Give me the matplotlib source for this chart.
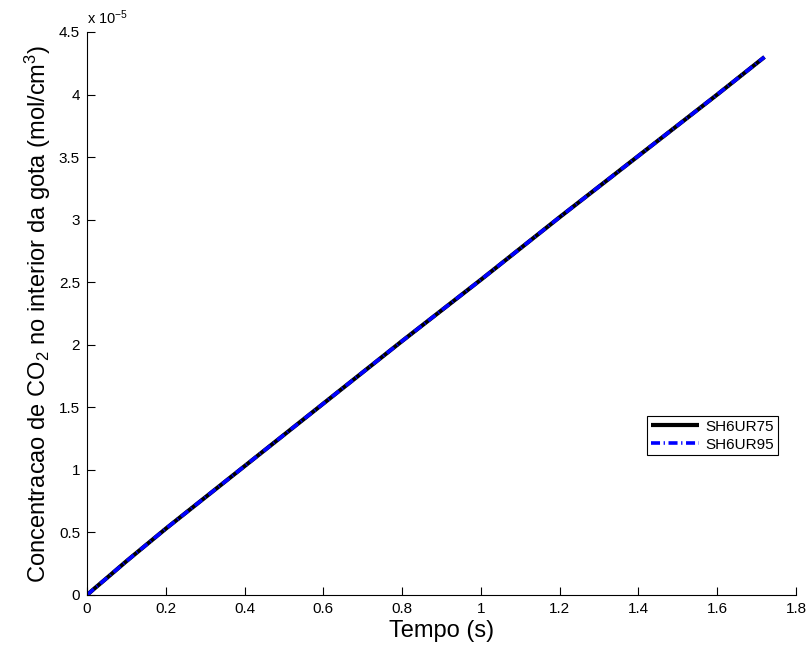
import matplotlib
matplotlib.use("Agg")
import matplotlib.pyplot as plt
from matplotlib.ticker import FuncFormatter, MultipleLocator

plt.rcParams['font.family'] = ['Liberation Sans', 'DejaVu Sans']
plt.rcParams['mathtext.fontset'] = 'custom'
plt.rcParams['mathtext.rm'] = 'Liberation Sans'
plt.rcParams['mathtext.it'] = 'Liberation Sans'

tempo = [0.0, 0.02, 0.05, 0.1, 0.2, 0.4, 0.6, 0.8, 1.0, 1.2, 1.4, 1.6, 1.72]
sh6ur75 = [0.0, 0.055e-5, 0.135e-5, 0.27e-5, 0.53e-5, 1.03e-5, 1.53e-5, 2.03e-5,
           2.52e-5, 3.02e-5, 3.51e-5, 4.00e-5, 4.30e-5]
sh6ur95 = [0.0, 0.055e-5, 0.135e-5, 0.27e-5, 0.53e-5, 1.03e-5, 1.53e-5, 2.03e-5,
           2.52e-5, 3.02e-5, 3.51e-5, 4.00e-5, 4.30e-5]
labels = ['SH6UR75', 'SH6UR95']

fig = plt.figure(figsize=(8.1, 6.5), dpi=100)
ax = fig.add_axes([87/810, 1 - 595/650, (796-87)/810, (595-32)/650])

ax.plot(tempo, sh6ur75, color='black', lw=3.0, label=labels[0], solid_capstyle='butt')
ax.plot(tempo, sh6ur95, color='blue', lw=2.6, ls=(0, (2.5, 1.0, 0.35, 1.0)),
        dash_capstyle='butt', label=labels[1])

ax.set_xlim(0, 1.8)
ax.set_ylim(0, 4.5e-5)
ax.xaxis.set_major_locator(MultipleLocator(0.2))
ax.yaxis.set_major_locator(MultipleLocator(0.5e-5))
ax.xaxis.set_major_formatter(FuncFormatter(lambda v, p: '%g' % round(v, 6)))
ax.yaxis.set_major_formatter(FuncFormatter(lambda v, p: '%g' % round(v / 1e-5, 6)))
ax.tick_params(direction='in', length=6, width=0.8, labelsize=11, pad=5)
ax.spines['top'].set_visible(False)
ax.spines['right'].set_visible(False)
for s in ('left', 'bottom'):
    ax.spines[s].set_linewidth(0.8)

ax.text(0.0, 1.008, r'x 10$^{-5}$', transform=ax.transAxes, fontsize=10.5,
        ha='left', va='bottom')

ax.set_xlabel('Tempo (s)', fontsize=17, labelpad=3)
ax.set_ylabel(r'Concentracao de CO$_2$ no interior da gota (mol/cm$^3$)', fontsize=17, labelpad=4)

leg = ax.legend(loc='upper right', bbox_to_anchor=((778-87)/709, 1 - (416-32)/563),
                fontsize=11, frameon=True, fancybox=False, edgecolor='black',
                framealpha=1, borderpad=0.25, handlelength=3.2, handletextpad=0.4,
                labelspacing=0.25, borderaxespad=0)
leg.get_frame().set_linewidth(0.8)

fig.savefig('out.png', dpi=100)
